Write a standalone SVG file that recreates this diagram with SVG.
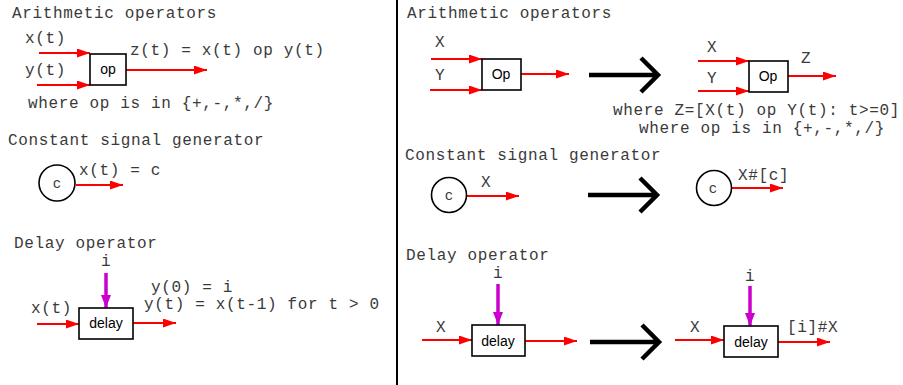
<svg xmlns="http://www.w3.org/2000/svg" width="903" height="385" viewBox="0 0 903 385">
<defs>
<style>
.t{font-family:"Liberation Mono","Courier New",monospace;font-size:16px;letter-spacing:0.65px;fill:#3a3a3a}
.b{font-family:"Liberation Sans",Arial,sans-serif;font-size:14px;fill:#000;text-anchor:middle}
.c{font-family:"Liberation Mono","Courier New",monospace;font-size:14px;fill:#3a3a3a;text-anchor:middle}
.box{fill:#fff;stroke:#000;stroke-width:1.6}
.red{stroke:#ff0000;stroke-width:1.8;fill:none;marker-end:url(#ar)}
.mag{stroke:#cc00cc;stroke-width:3.5;fill:none;marker-end:url(#am)}
.big{stroke:#000;stroke-width:4.5;fill:none}
</style>
<marker id="ar" markerUnits="userSpaceOnUse" markerWidth="14" markerHeight="10" refX="13" refY="4.5" orient="auto"><path d="M0,0 L13,4.5 L0,9 z" fill="#ff0000"/></marker>
<marker id="am" markerUnits="userSpaceOnUse" markerWidth="14" markerHeight="11" refX="13" refY="5" orient="auto"><path d="M0,0 L13,5 L0,10 z" fill="#cc00cc"/></marker>
</defs>
<rect width="903" height="385" fill="#fff"/>
<line x1="397" y1="0" x2="397" y2="385" stroke="#000" stroke-width="2"/>

<g id="labels">
<text class="t" x="12" y="18">Arithmetic operators</text>
<text class="t" x="25" y="43">x(t)</text>
<text class="t" x="25" y="75">y(t)</text>
<text class="t" x="130" y="55">z(t) = x(t) op y(t)</text>
<text class="t" x="28" y="108">where op is in {+,-,*,/}</text>
<text class="t" x="8" y="145">Constant signal generator</text>
<text class="t" x="79" y="175">x(t) = c</text>
<text class="t" x="14" y="248">Delay operator</text>
<text class="t" x="101" y="266">i</text>
<text class="t" x="31" y="313">x(t)</text>
<text class="t" x="151" y="292">y(0) = i</text>
<text class="t" x="144" y="309">y(t) = x(t-1) for t &gt; 0</text>

<text class="t" x="407" y="18">Arithmetic operators</text>
<text class="t" x="435" y="47">X</text>
<text class="t" x="435" y="80">Y</text>
<text class="t" x="707" y="52">X</text>
<text class="t" x="707" y="83">Y</text>
<text class="t" x="801" y="63">Z</text>
<text class="t" x="613" y="115">where Z=[X(t) op Y(t): t&gt;=0]</text>
<text class="t" x="639" y="133">where op is in {+,-,*,/}</text>
<text class="t" x="405" y="160">Constant signal generator</text>
<text class="t" x="481" y="187">X</text>
<text class="t" x="738" y="180">X#[c]</text>
<text class="t" x="406" y="260">Delay operator</text>
<text class="t" x="493" y="278">i</text>
<text class="t" x="436" y="332">X</text>
<text class="t" x="745" y="281">i</text>
<text class="t" x="690" y="332">X</text>
<text class="t" x="787" y="332">[i]#X</text>
</g>

<g id="connectors">
<line class="red" x1="39" y1="53" x2="90" y2="53"/>
<line class="red" x1="37" y1="85" x2="90" y2="85"/>
<line class="red" x1="126" y1="70" x2="207" y2="70"/>
<line class="red" x1="76" y1="185" x2="123" y2="185"/>
<line class="mag" x1="106" y1="273" x2="106" y2="308"/>
<line class="red" x1="37" y1="324" x2="79" y2="324"/>
<line class="red" x1="133" y1="323" x2="176" y2="323"/>

<line class="red" x1="431" y1="59" x2="482" y2="59"/>
<line class="red" x1="430" y1="90" x2="482" y2="90"/>
<line class="red" x1="521" y1="74" x2="569" y2="74"/>
<line class="red" x1="698" y1="61" x2="749" y2="61"/>
<line class="red" x1="698" y1="91" x2="749" y2="91"/>
<line class="red" x1="788" y1="76" x2="836" y2="76"/>
<line class="red" x1="467" y1="196" x2="519" y2="196"/>
<line class="red" x1="731" y1="188" x2="783" y2="188"/>
<line class="mag" x1="498" y1="284" x2="498" y2="325"/>
<line class="red" x1="422" y1="340" x2="472" y2="340"/>
<line class="red" x1="525" y1="341" x2="577" y2="341"/>
<line class="mag" x1="750" y1="286" x2="750" y2="326"/>
<line class="red" x1="675" y1="340" x2="724" y2="340"/>
<line class="red" x1="778" y1="342" x2="830" y2="342"/>

<path class="big" d="M589,75 L658,75 M641,58 L658,75 L641,92"/>
<path class="big" d="M588,195 L657,195 M640,178 L657,195 L640,212"/>
<path class="big" d="M590,342 L659,342 M642,325 L659,342 L642,359"/>
</g>

<g id="op1"><rect class="box" x="90" y="54" width="36" height="31"/><text class="b" x="108" y="74">op</text></g>
<g id="const1"><circle cx="57" cy="183" r="18" fill="#fff" stroke="#000" stroke-width="1.6"/><text class="c" x="57" y="188">c</text></g>
<g id="delay1"><rect class="box" x="79" y="308" width="54" height="31"/><text class="b" x="106" y="328">delay</text></g>

<g id="op2"><rect class="box" x="482" y="59" width="39" height="31"/><text class="b" x="501" y="79">Op</text></g>
<g id="op3"><rect class="box" x="749" y="61" width="39" height="31"/><text class="b" x="768" y="81">Op</text></g>
<g id="const2"><circle cx="449" cy="195" r="17.5" fill="#fff" stroke="#000" stroke-width="1.6"/><text class="c" x="449" y="200">c</text></g>
<g id="const3"><circle cx="714" cy="188" r="17.5" fill="#fff" stroke="#000" stroke-width="1.6"/><text class="c" x="713" y="193">c</text></g>
<g id="delay2"><rect class="box" x="472" y="325" width="53" height="31"/><text class="b" x="498" y="346">delay</text></g>
<g id="delay3"><rect class="box" x="724" y="326" width="54" height="31"/><text class="b" x="751" y="347">delay</text></g>
</svg>
